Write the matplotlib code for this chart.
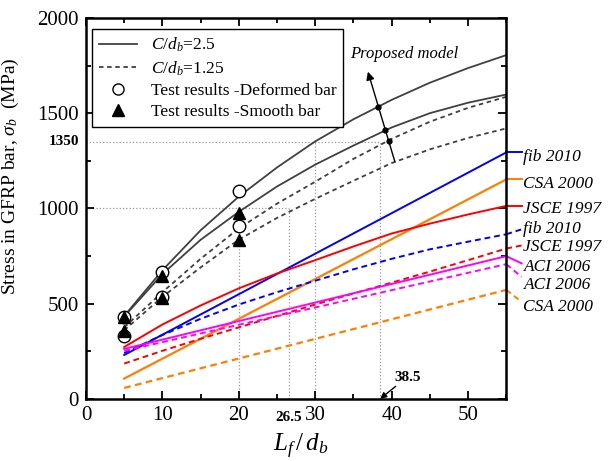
import matplotlib
matplotlib.use('Agg')
import matplotlib.pyplot as plt
from matplotlib.lines import Line2D
from matplotlib.ticker import MultipleLocator
import numpy as np

plt.rcParams['font.family'] = ['Liberation Serif', 'DejaVu Serif']
plt.rcParams['mathtext.fontset'] = 'custom'
plt.rcParams['mathtext.rm'] = 'Liberation Serif'
plt.rcParams['mathtext.it'] = 'Liberation Serif:italic'
plt.rcParams['mathtext.bf'] = 'Liberation Serif:bold'

# proposed model (C/db = 2.5 solid, C/db = 1.25 dashed)
x_model = [5, 10, 15, 20, 25, 30, 35, 40, 45, 50, 55]
model_def_25 = [435, 675, 885, 1062, 1215, 1352, 1468, 1570, 1660, 1737, 1805]
model_smo_25 = [432, 655, 835, 982, 1115, 1230, 1330, 1425, 1500, 1555, 1598]
model_def_125 = [375, 560, 735, 895, 1025, 1140, 1260, 1365, 1455, 1528, 1586]
model_smo_125 = [360, 535, 690, 836, 950, 1050, 1145, 1238, 1310, 1370, 1420]

# test results
x_test = [5, 10, 20, 5, 10, 20]
deformed = [430, 668, 1090, 332, 532, 910]
smooth = [430, 646, 977, 355, 530, 835]

# design codes
x_lin = [5, 55]
fib_solid = [230, 1294]
csa_solid = [106, 1152]
aci_solid = [262, 749]
aci_dash = [252, 707]
csa_dash = [57, 572]
x_code = [5, 10, 15, 20, 25, 30, 35, 40, 45, 50, 55]
jsce_solid = [272, 390, 490, 580, 658, 728, 800, 868, 920, 968, 1013]
fib_dash = [240, 335, 420, 495, 560, 620, 680, 735, 785, 825, 864]
jsce_dash = [185, 252, 315, 375, 435, 495, 553, 610, 668, 728, 789]

fig = plt.figure(figsize=(6.1, 4.61), dpi=100)
ax = fig.add_axes([0.141, 0.135, 0.689, 0.826])

gray = '#404040'
blue = '#0000FF'
red = '#FF0000'
orange = '#FF7F00'
magenta = '#FF00FF'
dash = (0, (3, 2))
mdash = (0, (2.5, 2))

# reference dotted lines
ref = dict(color='#999999', lw=0.9, ls=':', zorder=1)
ax.plot([0, 38.5], [1350, 1350], **ref)
ax.plot([0, 26.5], [1000, 1000], **ref)
ax.plot([20, 20], [0, 1000], **ref)
ax.plot([26.5, 26.5], [0, 1000], **ref)
ax.plot([30, 30], [0, 1350], **ref)
ax.plot([38.5, 38.5], [0, 1350], **ref)

# code lines
ax.plot(x_lin, fib_solid, color=blue, lw=1.4)
ax.plot(x_lin, csa_solid, color=orange, lw=1.6)
ax.plot(x_code, jsce_solid, color=red, lw=1.4)
ax.plot(x_code, fib_dash, color=blue, lw=1.4, ls=dash)
ax.plot(x_code, jsce_dash, color=red, lw=1.4, ls=dash)
ax.plot(x_lin, aci_solid, color=magenta, lw=1.4)
ax.plot(x_lin, aci_dash, color=magenta, lw=1.4, ls=dash)
ax.plot(x_lin, csa_dash, color=orange, lw=1.6, ls=dash)

# model curves
ax.plot(x_model, model_def_25, color=gray, lw=1.3)
ax.plot(x_model, model_smo_25, color=gray, lw=1.3)
ax.plot(x_model, model_def_125, color=gray, lw=1.3, ls=mdash)
ax.plot(x_model, model_smo_125, color=gray, lw=1.3, ls=mdash)

# test points
ax.plot(x_test, deformed, 'o', ms=9, mfc='white', mec='black', mew=1.0, zorder=5)
ax.plot(x_test, smooth, '^', ms=9, color='black', zorder=6)

# right-side labels
ends = [(fib_solid[-1], 1294, 1270, 'fib 2010', blue, '-'),
        (csa_solid[-1], 1152, 1130, 'CSA 2000', orange, '-'),
        (jsce_solid[-1], 1013, 998, 'JSCE 1997', red, '-'),
        (fib_dash[-1], 890, 893, 'fib 2010', blue, dash),
        (jsce_dash[-1], 805, 795, 'JSCE 1997', red, dash),
        (aci_solid[-1], 711, 690, 'ACI 2006', magenta, '-'),
        (aci_dash[-1], 640, 597, 'ACI 2006', magenta, dash),
        (csa_dash[-1], 509, 480, 'CSA 2000', orange, dash)]
for y0, y1, yt, name, c, ls in ends:
    ax.plot([55, 57.0], [y0, y1], color=c, lw=1.4, ls=ls, clip_on=False)
    ax.text(57.25, yt, name, color='black', fontsize=12.5, style='italic',
            ha='left', va='center')

# proposed model arrow
p0 = np.array([40.42, 1245.0])
p1 = np.array([36.89, 1718.0])
ax.annotate('', xy=p1, xytext=p0,
            arrowprops=dict(arrowstyle='-|>', color='black', lw=1.0,
                            mutation_scale=12, shrinkA=0, shrinkB=0))
t = np.linspace(0, 1, 4001)
xt = p0[0] + t * (p1[0] - p0[0])
yt = p0[1] + t * (p1[1] - p0[1])
for cy in [model_def_25, model_smo_25, model_def_125, model_smo_125]:
    f = yt - np.interp(xt, x_model, cy)
    i = np.where(np.diff(np.sign(f)) != 0)[0]
    if len(i):
        ax.plot(xt[i[0]], yt[i[0]], 'o', color='black', ms=3.5, zorder=7)
ax.text(41.7, 1810, 'Proposed model', fontsize=12, style='italic',
        ha='center', va='center')

# 38.5 annotation
ax.annotate('38.5', xy=(38.5, 0), xytext=(40.3, 80), fontsize=11,
            fontweight='bold', ha='left', va='bottom',
            arrowprops=dict(arrowstyle='-|>', color='black', lw=1.0,
                            mutation_scale=9, shrinkA=0, shrinkB=0))

ax.set_xlim(0, 55)
ax.set_ylim(0, 2000)
ax.xaxis.set_major_locator(MultipleLocator(10))
ax.xaxis.set_minor_locator(MultipleLocator(5))
ax.yaxis.set_major_locator(MultipleLocator(500))
ax.yaxis.set_minor_locator(MultipleLocator(250))
ax.tick_params(which='both', direction='in', top=True, right=True,
               width=1.3, labelsize=15, pad=5)
ax.tick_params(which='major', length=6)
ax.tick_params(which='minor', length=3.5)
for s in ax.spines.values():
    s.set_linewidth(1.8)

ax.text(26.5, -0.05, '26.5', transform=ax.get_xaxis_transform(),
        fontsize=11, fontweight='bold', ha='center', va='center')
ax.text(-0.016, 1350, '1350', transform=ax.get_yaxis_transform(),
        fontsize=11, fontweight='bold', ha='right', va='center')

ax.set_xlabel(r'$L_f\,/\,d_b$', fontsize=18)
ax.xaxis.set_label_coords(0.51, -0.125)
ax.xaxis.label.set_va('center')
ax.set_ylabel(r'Stress in GFRP bar, $\sigma_b$  (MPa)', fontsize=14)
ax.yaxis.set_label_coords(-0.155, 0.585)

handles = [Line2D([], [], color=gray, lw=1.3),
           Line2D([], [], color=gray, lw=1.3, ls=mdash),
           Line2D([], [], ls='none', marker='o', ms=8, mfc='white', mec='black'),
           Line2D([], [], ls='none', marker='^', ms=8, color='black')]
labels = [r'$C/d_b$=2.5', r'$C/d_b$=1.25',
          'Test results -Deformed bar', 'Test results -Smooth bar']
leg = ax.legend(handles, labels, loc='upper left', bbox_to_anchor=(0.014, 0.972),
                borderaxespad=0, fontsize=12.5, fancybox=False, framealpha=1,
                edgecolor='black', handlelength=2.2, labelspacing=0.3,
                borderpad=0.4, handletextpad=0.8)
leg.get_frame().set_linewidth(1.0)

fig.savefig('out.png', dpi=100)
